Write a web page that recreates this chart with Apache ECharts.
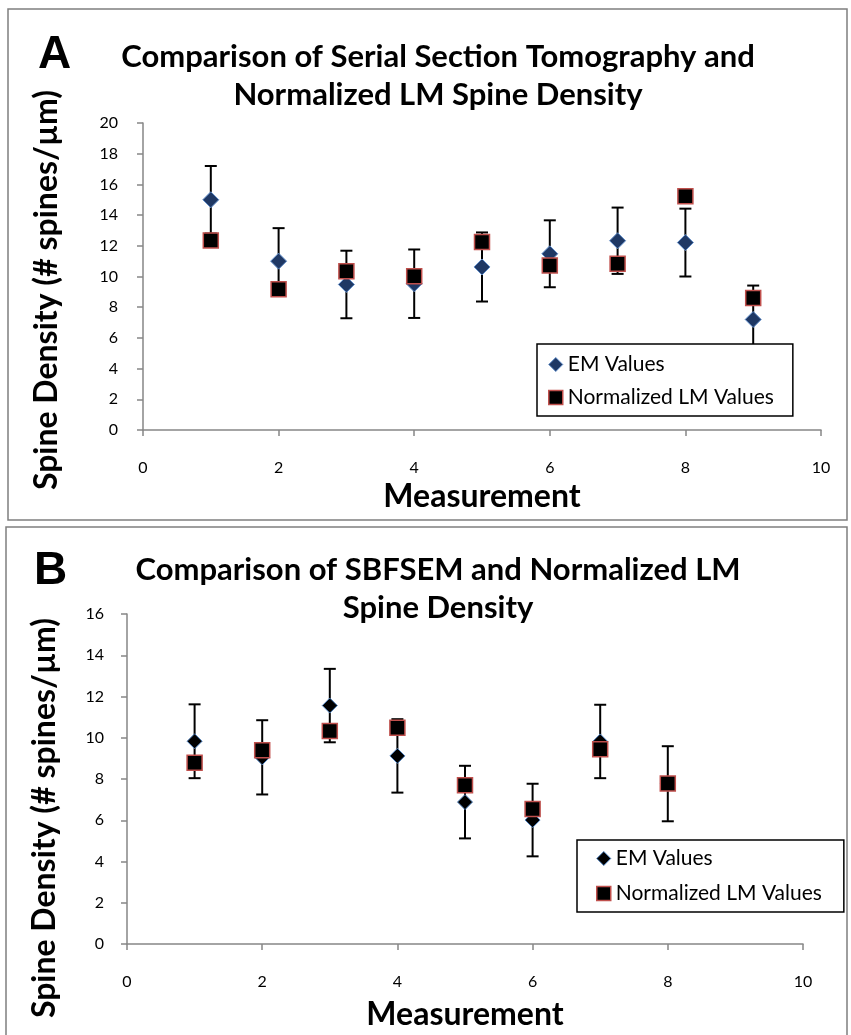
<!DOCTYPE html>
<html>
<head>
<meta charset="utf-8">
<script src="https://cdn.jsdelivr.net/npm/echarts@6/dist/echarts.min.js"></script>
<style>
  html, body { margin: 0; padding: 0; background: #fff; }
  #chart { width: 851px; height: 1035px; }
</style>
</head>
<body>
<div id="chart"></div>
<script>
// panel A: serial section tomography
const measurementsA = [1, 2, 3, 4, 5, 6, 7, 8, 9];
const emA = [15.0, 11.0, 9.48, 9.53, 10.62, 11.48, 12.33, 12.21, 7.2];
const emErrA = [2.2, 2.15, 2.2, 2.23, 2.25, 2.18, 2.16, 2.21, 2.21];
const lmA = [12.35, 9.17, 10.35, 10.02, 12.24, 10.72, 10.83, 15.23, 8.6];

// panel B: SBFSEM
const measurementsB = [1, 2, 3, 4, 5, 6, 7, 8];
const emB = [9.83, 9.05, 11.56, 9.12, 6.88, 6.01, 9.82, 7.77];
const emErrB = [1.79, 1.8, 1.78, 1.78, 1.76, 1.76, 1.78, 1.82];
const lmB = [8.79, 9.39, 10.33, 10.49, 7.7, 6.55, 9.44, 7.78];

const xTicks = [0, 10, 2];   // min, max, interval
const yTicksA = [0, 20, 2];
const yTicksB = [0, 16, 2];

const FONT = 'Lato';
const AXIS_GREY = '#868686';

const chart = echarts.init(document.getElementById('chart'));

function pairs(xs, ys) {
  return xs.map((x, i) => [x, ys[i]]);
}

function bars(xs, ys, errs) {
  return xs.map((x, i) => [x, ys[i] - errs[i], ys[i] + errs[i]]);
}

function errorBar(params, api) {
  const x = api.value(0);
  const lo = api.coord([x, api.value(1)]);
  const hi = api.coord([x, api.value(2)]);
  const cap = 6;
  const style = { stroke: '#000', lineWidth: 2, fill: null };
  return {
    type: 'group',
    children: [
      { type: 'line', shape: { x1: hi[0], y1: hi[1], x2: lo[0], y2: lo[1] }, style: style },
      { type: 'line', shape: { x1: hi[0] - cap, y1: hi[1], x2: hi[0] + cap, y2: hi[1] }, style: style },
      { type: 'line', shape: { x1: lo[0] - cap, y1: lo[1], x2: lo[0] + cap, y2: lo[1] }, style: style }
    ]
  };
}

function xAxis(gridIndex) {
  return {
    type: 'value', gridIndex: gridIndex,
    min: xTicks[0], max: xTicks[1], interval: xTicks[2],
    axisLine: { lineStyle: { color: AXIS_GREY, width: 1.5 } },
    axisTick: { length: 6, lineStyle: { color: AXIS_GREY, width: 1.5 } },
    splitLine: { show: false },
    axisLabel: { margin: 30, color: '#000', fontFamily: FONT, fontSize: 16 }
  };
}

function yAxis(gridIndex, ticks, margin) {
  return {
    type: 'value', gridIndex: gridIndex,
    min: ticks[0], max: ticks[1], interval: ticks[2],
    axisLine: { show: true, lineStyle: { color: AXIS_GREY, width: 1.5 } },
    axisTick: { show: true, length: 6, lineStyle: { color: AXIS_GREY, width: 1.5 } },
    splitLine: { show: false },
    axisLabel: { margin: margin, color: '#000', fontFamily: FONT, fontSize: 16 }
  };
}

const emStyleA = { color: '#1f3864', borderColor: '#5f8cc8', borderWidth: 1, opacity: 1 };
const emStyleB = { color: '#000', borderColor: '#4f81bd', borderWidth: 1, opacity: 1 };
const lmStyle = { color: '#000', borderColor: '#c0504d', borderWidth: 1.5, opacity: 1 };

function legend(left, top, padding, gap, emStyle) {
  return {
    orient: 'vertical', left: left, top: top,
    selectedMode: false,
    backgroundColor: '#fff', borderColor: '#000', borderWidth: 1.5, borderRadius: 0,
    padding: padding, itemGap: gap, itemWidth: 14, itemHeight: 14,
    textStyle: { fontFamily: FONT, fontSize: 21, color: '#000' },
    data: [
      { name: 'EM Values', icon: 'diamond', itemStyle: emStyle },
      { name: 'Normalized LM Values', icon: 'rect', itemStyle: lmStyle }
    ]
  };
}

const titleStyle = { fontFamily: FONT, fontSize: 31, fontWeight: 'bold', color: '#000', lineHeight: 38 };
const axisTitle = { fontFamily: FONT, fontSize: 32, fontWeight: 'bold', fill: '#000' };
const letterStyle = { fontFamily: 'Liberation Sans', fontSize: 46, fontWeight: 'bold', fill: '#000' };

chart.setOption({
  backgroundColor: '#fff',
  animation: false,
  title: [
    { text: 'Comparison of Serial Section Tomography and\nNormalized LM Spine Density',
      left: 433, top: 33, textAlign: 'center', textStyle: titleStyle },
    { text: 'Comparison of SBFSEM and Normalized LM\nSpine Density',
      left: 433, top: 546, textAlign: 'center', textStyle: titleStyle }
  ],
  grid: [
    { left: 143, right: 30, top: 123, height: 307 },
    { left: 127, right: 48, top: 614, height: 330 }
  ],
  xAxis: [xAxis(0), xAxis(1)],
  yAxis: [yAxis(0, yTicksA, 25), yAxis(1, yTicksB, 23)],
  legend: [
    legend(537, 344, [10, 19, 8, 11], 12, emStyleA),
    legend(577, 840, [8, 22, 8, 19], 14, emStyleB)
  ],
  series: [
    { type: 'custom', name: 'EM error A', xAxisIndex: 0, yAxisIndex: 0, z: 1,
      renderItem: errorBar, encode: { x: 0, y: [1, 2] },
      data: bars(measurementsA, emA, emErrA) },
    { type: 'scatter', name: 'EM Values', xAxisIndex: 0, yAxisIndex: 0, z: 2,
      symbol: 'diamond', symbolSize: 16, itemStyle: emStyleA,
      data: pairs(measurementsA, emA) },
    { type: 'scatter', name: 'Normalized LM Values', xAxisIndex: 0, yAxisIndex: 0, z: 3,
      symbol: 'rect', symbolSize: 15, itemStyle: lmStyle,
      data: pairs(measurementsA, lmA) },
    { type: 'custom', name: 'EM error B', xAxisIndex: 1, yAxisIndex: 1, z: 1,
      renderItem: errorBar, encode: { x: 0, y: [1, 2] },
      data: bars(measurementsB, emB, emErrB) },
    { type: 'scatter', name: 'EM Values', xAxisIndex: 1, yAxisIndex: 1, z: 2,
      symbol: 'diamond', symbolSize: 15, itemStyle: emStyleB,
      data: pairs(measurementsB, emB) },
    { type: 'scatter', name: 'Normalized LM Values', xAxisIndex: 1, yAxisIndex: 1, z: 3,
      symbol: 'rect', symbolSize: 15, itemStyle: lmStyle,
      data: pairs(measurementsB, lmB) }
  ],
  graphic: [
    // panel frames
    { type: 'rect', shape: { x: 8, y: 9, width: 839, height: 511 },
      style: { fill: null, stroke: '#7f7f7f', lineWidth: 1.5 }, z: -1 },
    { type: 'rect', shape: { x: 6, y: 527, width: 841, height: 520 },
      style: { fill: null, stroke: '#7f7f7f', lineWidth: 1.5 }, z: -1 },
    // panel letters
    { type: 'text', x: 38, y: 32, style: Object.assign({ text: 'A' }, letterStyle) },
    { type: 'text', x: 34, y: 548, style: Object.assign({ text: 'B' }, letterStyle) },
    // axis titles
    { type: 'text', x: 47, y: 290, rotation: Math.PI / 2,
      style: Object.assign({ text: 'Spine Density (# spines/µm)', align: 'center', verticalAlign: 'middle' }, axisTitle) },
    { type: 'text', x: 45, y: 818, rotation: Math.PI / 2,
      style: Object.assign({ text: 'Spine Density (# spines/µm)', align: 'center', verticalAlign: 'middle' }, axisTitle) },
    { type: 'text', x: 482, y: 497,
      style: Object.assign({ text: 'Measurement', align: 'center', verticalAlign: 'middle' }, axisTitle) },
    { type: 'text', x: 465, y: 1015,
      style: Object.assign({ text: 'Measurement', align: 'center', verticalAlign: 'middle' }, axisTitle) }
  ]
});

window.addEventListener('resize', () => chart.resize());
</script>
</body>
</html>
